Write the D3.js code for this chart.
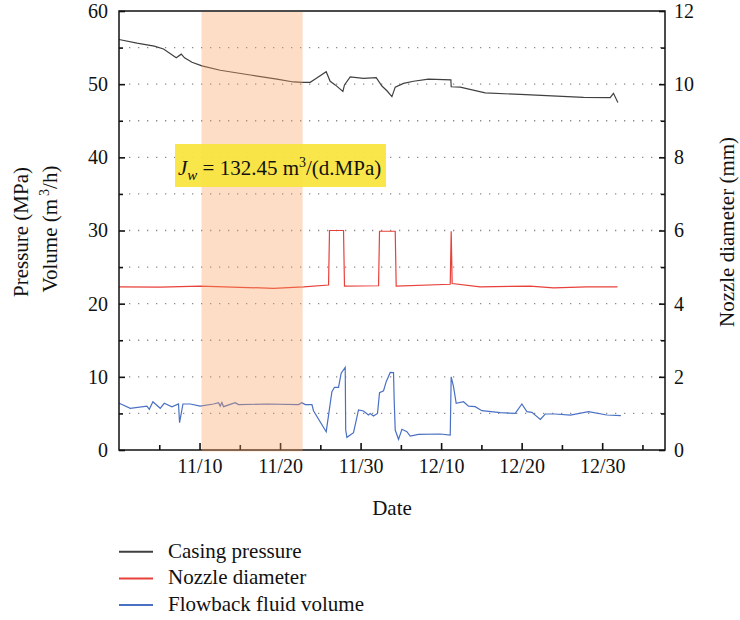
<!DOCTYPE html>
<html>
<head>
<meta charset="utf-8">
<script src="https://cdn.jsdelivr.net/npm/d3@7"></script>
<style>
  html, body { margin: 0; padding: 0; background: #fff; }
  svg { display: block; }
  svg text { font-family: "Liberation Serif", "Times New Roman", Tinos, "Nimbus Roman", "Noto Serif", "DejaVu Serif", serif !important; fill: #111; }
</style>
</head>
<body>
<svg id="chart" width="740" height="620"></svg>
<script>
// ---------- data (x = days after 11/10) ----------
const xTickDays = [0, 10, 20, 30, 40, 50];
const xTickLabels = ["11/10", "11/20", "11/30", "12/10", "12/20", "12/30"];
const xMinorDays = [-5, 5, 15, 25, 35, 45, 55];
const xRangeDays = [-10, 57.8];

const leftTicks = [0, 10, 20, 30, 40, 50, 60];
const leftMinor = [5, 15, 25, 35, 45, 55];
const rightTicks = [0, 2, 4, 6, 8, 10, 12];
const rightMinor = [1, 3, 5, 7, 9, 11];

const shadeDays = [0.25, 12.8];

const casingPressure = [
  [-10, 56.1], [-7.77, 55.6], [-5.62, 55.2], [-4.47, 54.8], [-2.89, 53.6], [-2.27, 54.1],
  [-1.86, 53.6], [-0.94, 53.0], [0.3, 52.5], [2.57, 51.9], [6.3, 51.25], [9.61, 50.7],
  [11.67, 50.3], [12.84, 50.25], [13.74, 50.25], [14.37, 50.7], [15.73, 51.7], [16.22, 50.4],
  [16.85, 49.9], [17.8, 49.0], [18.0, 49.9], [18.71, 51.0], [20.36, 50.8], [21.94, 50.9],
  [22.65, 49.75], [23.27, 49.1], [23.89, 48.3], [24.3, 49.6], [25.33, 50.1], [26.57, 50.4],
  [28.43, 50.7], [31.21, 50.6], [31.25, 49.65], [32.37, 49.6], [35.47, 48.8], [39.82, 48.6],
  [47.68, 48.2], [50.99, 48.15], [51.4, 48.75], [51.95, 47.5]
];

const nozzleDiameter = [
  [-10, 4.46], [-4.88, 4.45], [0.09, 4.48], [9.19, 4.42], [12.91, 4.46], [16.02, 4.51],
  [16.14, 6.0], [17.88, 6.0], [18.0, 4.48], [22.23, 4.49], [22.35, 5.98], [24.3, 5.98],
  [24.42, 4.48], [31.13, 4.53], [31.25, 5.98], [31.37, 4.55], [34.85, 4.46], [41.05, 4.48],
  [43.95, 4.43], [48.1, 4.46], [51.9, 4.46]
];

const flowbackVolume = [
  [-9.97, 6.38], [-8.6, 5.7], [-6.53, 6.0], [-6.24, 5.56], [-5.79, 6.6], [-4.88, 5.7],
  [-4.38, 6.38], [-3.43, 5.9], [-2.61, 6.29], [-2.48, 3.73], [-2.06, 6.29], [-1.15, 6.29],
  [0.09, 6.0], [1.74, 6.29], [2.36, 6.47], [2.57, 6.0], [2.78, 6.5], [2.98, 5.92],
  [4.43, 6.47], [4.84, 6.2], [8.37, 6.29], [12.29, 6.2], [12.71, 6.47], [13.12, 6.2],
  [13.96, 6.2], [14.15, 5.37], [15.73, 2.5], [16.23, 6.38], [16.44, 7.97], [16.76, 8.57],
  [17.26, 8.57], [17.59, 10.5], [18.09, 11.3], [18.15, 2.73], [18.3, 1.73], [19.12, 2.37],
  [19.74, 5.47], [20.36, 5.33], [20.98, 4.78], [21.19, 5.0], [21.6, 4.65], [22.1, 5.0],
  [22.35, 7.83], [22.85, 8.1], [23.18, 9.34], [23.68, 10.6], [24.09, 10.57], [24.17, 6.83],
  [24.3, 2.73], [24.71, 1.46], [25.13, 2.83], [25.75, 2.5], [26.16, 1.91], [27.19, 2.14],
  [29.89, 2.19], [31.13, 2.05], [31.25, 10.0], [31.54, 8.65], [31.87, 6.38], [32.78, 6.6],
  [33.4, 6.0], [34.23, 5.92], [35.06, 5.37], [37.35, 5.1], [39.2, 5.0], [40.03, 6.29],
  [40.65, 5.24], [41.27, 5.15], [42.32, 4.19], [42.93, 4.92], [44.17, 4.92], [46.04, 4.78],
  [48.3, 5.24], [50.58, 4.78], [52.32, 4.69]
];

const legendItems = ["Casing pressure", "Nozzle diameter", "Flowback fluid volume"];
const seriesColors = ["#404040", "#e8403a", "#4a70c4"];

// ---------- layout ----------
const FONT = '"Liberation Serif", "Times New Roman", Tinos, "Nimbus Roman", "Noto Serif", "DejaVu Serif", serif';
const svg = d3.select("#chart").attr("font-family", FONT);
const L = 119, R = 665, T = 11, B = 450;

const x = d3.scaleLinear().domain(xRangeDays).range([L, R]);
const yL = d3.scaleLinear().domain([0, 60]).range([B, T]);
const yR = d3.scaleLinear().domain([0, 12]).range([B, T]);

// gridlines (dotted)
svg.append("g").selectAll("line")
  .data(leftMinor.concat(leftTicks.filter(v => v > 0 && v < 60)))
  .join("line")
  .attr("x1", L + 10).attr("x2", R - 2)
  .attr("y1", d => yL(d)).attr("y2", d => yL(d))
  .attr("stroke", "#8a8a8a").attr("stroke-width", 1.3)
  .attr("stroke-dasharray", "1.3,7.7");

// lines
const line = (ys) => d3.line().x(d => x(d[0])).y(d => ys(d[1]));
svg.append("path").datum(casingPressure).attr("d", line(yL))
  .attr("fill", "none").attr("stroke", seriesColors[0]).attr("stroke-width", 1.2);
svg.append("path").datum(nozzleDiameter).attr("d", line(yR))
  .attr("fill", "none").attr("stroke", seriesColors[1]).attr("stroke-width", 1.2);
svg.append("path").datum(flowbackVolume).attr("d", line(yL))
  .attr("fill", "none").attr("stroke", seriesColors[2]).attr("stroke-width", 1.2);

// axes
const fs = 20;
const gL = svg.append("g").attr("transform", `translate(${L},0)`)
  .call(d3.axisLeft(yL).tickValues(leftTicks).tickSize(-6).tickPadding(11));
const gLm = svg.append("g").attr("transform", `translate(${L},0)`)
  .call(d3.axisLeft(yL).tickValues(leftMinor).tickSize(-4).tickFormat(""));
const gR = svg.append("g").attr("transform", `translate(${R},0)`)
  .call(d3.axisRight(yR).tickValues(rightTicks).tickSize(-6).tickPadding(9));
const gRm = svg.append("g").attr("transform", `translate(${R},0)`)
  .call(d3.axisRight(yR).tickValues(rightMinor).tickSize(-4).tickFormat(""));
const gB = svg.append("g").attr("transform", `translate(0,${B})`)
  .call(d3.axisBottom(x).tickValues(xTickDays).tickFormat((d, i) => xTickLabels[i]).tickSize(-7).tickPadding(0));
const gBm = svg.append("g").attr("transform", `translate(0,${B})`)
  .call(d3.axisBottom(x).tickValues(xMinorDays).tickSize(-5).tickFormat(""));

[gL, gLm, gR, gRm, gB, gBm].forEach(g => {
  g.attr("font-family", FONT).attr("font-size", fs);
  g.select(".domain").remove();
  g.selectAll(".tick line").attr("stroke", "#111").attr("stroke-width", 1.6);
  g.selectAll(".tick text").attr("font-family", FONT).attr("font-size", fs).attr("fill", "#111");
});
gB.selectAll(".tick text").attr("dy", null).attr("y", 23);

// frame
svg.append("rect").attr("x", L).attr("y", T).attr("width", R - L).attr("height", B - T)
  .attr("fill", "none").attr("stroke", "#111").attr("stroke-width", 1.5);

// shaded period (overlay)
svg.append("rect")
  .attr("x", x(shadeDays[0])).attr("width", x(shadeDays[1]) - x(shadeDays[0]))
  .attr("y", T + 1).attr("height", B - T + 0.5)
  .attr("fill", "#fa9f5a").attr("opacity", 0.35);

// annotation box (above the shade, slightly translucent)
const ann = svg.append("g");
ann.append("rect")
  .attr("x", 175).attr("y", 144).attr("width", 211).attr("height", 43)
  .attr("fill", "#f8e43c").attr("opacity", 0.93);
const annText = ann.append("text").attr("x", 178).attr("y", 175).attr("font-size", 21);
annText.append("tspan").attr("font-style", "italic").text("J");
annText.append("tspan").attr("font-style", "italic").attr("font-size", 15).attr("dy", 5).text("w");
annText.append("tspan").attr("dy", -5).text(" = 132.45 m");
annText.append("tspan").attr("font-size", 14).attr("dy", -8).text("3");
annText.append("tspan").attr("dy", 8).text("/(d.MPa)");

// axis titles
svg.append("text").attr("x", (L + R) / 2).attr("y", 515).attr("text-anchor", "middle")
  .attr("font-size", 21).text("Date");

const yt = svg.append("text").attr("transform", "translate(28,232) rotate(-90)")
  .attr("text-anchor", "middle").attr("font-size", 21);
yt.append("tspan").attr("x", 0).attr("y", 0).text("Pressure (MPa)");
const yt2 = svg.append("text").attr("transform", "translate(57,229) rotate(-90)")
  .attr("text-anchor", "middle").attr("font-size", 21);
yt2.append("tspan").text("Volume (m");
yt2.append("tspan").attr("font-size", 14).attr("dx", 3).attr("dy", -8).text("3");
yt2.append("tspan").attr("dy", 8).text("/h)");

svg.append("text").attr("transform", "translate(734,232) rotate(-90)")
  .attr("text-anchor", "middle").attr("font-size", 21).text("Nozzle diameter (mm)");

// legend
const lg = svg.append("g");
legendItems.forEach((name, i) => {
  const yy = 551.7 + i * 26.7;
  lg.append("line").attr("x1", 119).attr("x2", 153).attr("y1", yy).attr("y2", yy)
    .attr("stroke", seriesColors[i]).attr("stroke-width", 2);
  lg.append("text").attr("x", 168).attr("y", yy + 6).attr("font-size", 21).text(name);
});
</script>
</body>
</html>
